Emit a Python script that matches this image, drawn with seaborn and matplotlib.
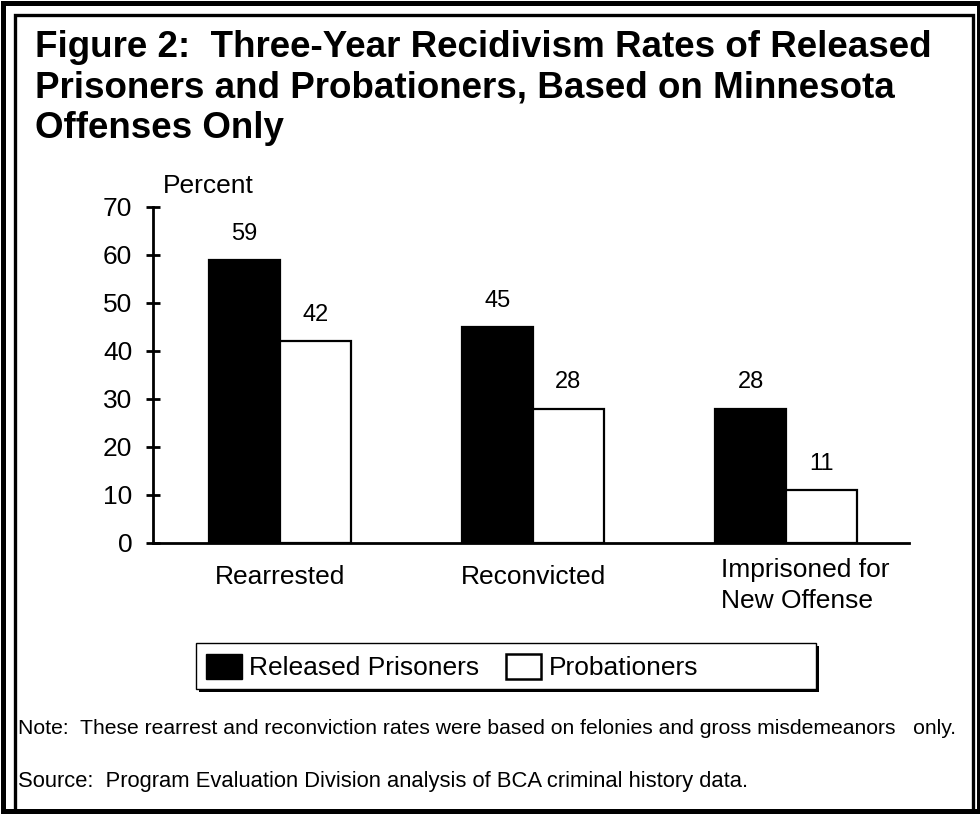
import matplotlib
matplotlib.use("Agg")
import matplotlib.pyplot as plt
import matplotlib.transforms as mtransforms
from matplotlib.patches import Rectangle, Patch
import pandas as pd
import seaborn as sns

# === Données ===
categories = ["Rearrested", "Reconvicted", "Imprisoned for\nNew Offense"]
groupes = ["Released Prisoners", "Probationers"]
prisonniers = [59, 45, 28]
probationnaires = [42, 28, 11]
couleurs = {"Released Prisoners": "black", "Probationers": "white"}

df = pd.DataFrame({
    "categorie": categories * 2,
    "groupe": [groupes[0]] * 3 + [groupes[1]] * 3,
    "taux": prisonniers + probationnaires,
})

sns.set_style("white")
plt.rcParams["font.family"] = ["Liberation Sans", "DejaVu Sans"]
for cle in ["text.color", "axes.labelcolor", "xtick.color", "ytick.color"]:
    plt.rcParams[cle] = "black"

W, H = 980, 818
fig = plt.figure(figsize=(W / 100, H / 100), dpi=100)
ax = fig.add_axes([153 / W, 1 - 543 / H, (909 - 153) / W, (543 - 207) / H])

sns.barplot(data=df, x="categorie", y="taux", hue="groupe", palette=couleurs,
            order=categories, hue_order=groupes, width=0.56,
            edgecolor="black", linewidth=1.6, legend=False, ax=ax)

# === Étiquettes des valeurs ===
for cont in ax.containers:
    ax.bar_label(cont, fmt="%d", padding=11, fontsize=17)

# === Axes ===
ax.set_xlim(-0.502, 2.486)
ax.set_ylim(0, 70)
ax.set_yticks(range(0, 71, 10))
ax.set_xlabel("")
ax.set_ylabel("")
for s in ["top", "right"]:
    ax.spines[s].set_visible(False)
for s in ["left", "bottom"]:
    ax.spines[s].set_linewidth(2)
    ax.spines[s].set_color("black")
ax.tick_params(axis="y", left=True, direction="inout", length=10, width=2, labelsize=19, pad=10)
ax.tick_params(axis="x", bottom=False, length=0, labelsize=19, pad=16)
ax.set_xticks(range(3))
ax.set_xticklabels(categories)
lab = ax.get_xticklabels()[2]
lab.set_multialignment("left")
lab.set_linespacing(1.35)
decalage = mtransforms.ScaledTranslation(0.19, 0.07, fig.dpi_scale_trans)
lab.set_transform(lab.get_transform() + decalage)
fig.text(163 / W, 1 - 186 / H, "Percent", fontsize=19, va="center", ha="left")

# === Titre ===
fig.text(35 / W, 1 - 30 / H,
         "Figure 2:  Three-Year Recidivism Rates of Released\n"
         "Prisoners and Probationers, Based on Minnesota\n"
         "Offenses Only",
         fontsize=26.5, fontweight="bold", va="top", ha="left", linespacing=1.2)

# === Légende (cadre dessiné à part, avec ombre) ===
fig.patches.append(Rectangle((199 / W, 1 - 692 / H), 620 / W, 46 / H, transform=fig.transFigure,
                             facecolor="black", edgecolor="black", linewidth=0))
fig.patches.append(Rectangle((196 / W, 1 - 689 / H), 620 / W, 46 / H, transform=fig.transFigure,
                             facecolor="white", edgecolor="black", linewidth=1))
poignees = [Patch(facecolor="black", edgecolor="black"),
            Patch(facecolor="white", edgecolor="black", linewidth=1.8)]
leg = fig.legend(poignees, groupes, loc="center left", bbox_to_anchor=(206 / W, 1 - 667 / H),
                 ncol=2, fontsize=19, frameon=False,
                 handlelength=1.36, handleheight=1.1, handletextpad=0.27,
                 columnspacing=1.0, borderpad=0, borderaxespad=0)

# === Notes ===
fig.text(18 / W, 1 - 729 / H,
         "Note:  These rearrest and reconviction rates were based on felonies and gross misdemeanors   only.",
         fontsize=15.2, va="center", ha="left")
fig.text(18 / W, 1 - 782 / H,
         "Source:  Program Evaluation Division analysis of BCA criminal history data.",
         fontsize=15.8, va="center", ha="left")

# === Cadres ===
fig.patches.append(Rectangle((2.5 / W, 1 - 811 / H), 976 / W, 808.5 / H, transform=fig.transFigure,
                             fill=False, edgecolor="black", linewidth=3.6))
fig.patches.append(Rectangle((14.5 / W, 1 - 811 / H), 958 / W, 796.5 / H, transform=fig.transFigure,
                             fill=False, edgecolor="black", linewidth=2.4))

fig.savefig("out.png", dpi=100)
